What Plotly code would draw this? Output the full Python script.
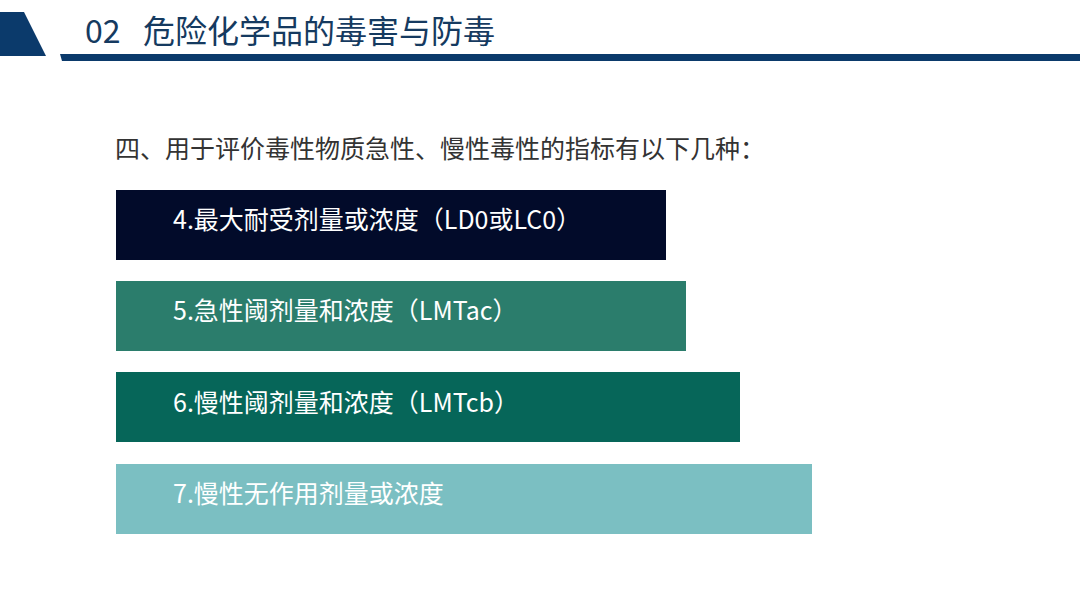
import plotly.graph_objects as go

W, H = 1080, 607

# bar labels and lengths (in slide pixels)
labels = [
    "4.最大耐受剂量或浓度（LD0或LC0）",
    "5.急性阈剂量和浓度（LMTac）",
    "6.慢性阈剂量和浓度（LMTcb）",
    "7.慢性无作用剂量或浓度",
]
lengths = [550, 570, 624, 696]
colors = ["#020b2a", "#2b7d6c", "#066659", "#7bbfc2"]

section_no = "02"
title = "危险化学品的毒害与防毒"
subtitle = "四、用于评价毒性物质急性、慢性毒性的指标有以下几种："

FONT = "Noto Sans CJK SC"


def py(v):
    # pixel row from top -> paper y
    return 1 - v / H


fig = go.Figure()

fig.add_trace(go.Bar(
    y=labels,
    x=lengths,
    base=116,
    orientation="h",
    width=70 / 91.33,
    marker=dict(color=colors, line=dict(width=0)),
    hoverinfo="skip",
))

# text inside each bar
for lab in labels:
    fig.add_annotation(
        x=171, y=lab, xref="x", yref="y",
        text=lab, showarrow=False,
        xanchor="left", yanchor="middle", yshift=7,
        font=dict(family=FONT, size=25, color="white"),
    )

# header block and rule
fig.add_shape(
    type="path", xref="paper", yref="paper",
    path=f"M 0 {py(12)} L {24 / W} {py(12)} L {46 / W} {py(56)} L 0 {py(56)} Z",
    fillcolor="#0b3a6b", line=dict(width=0),
)
fig.add_shape(
    type="path", xref="paper", yref="paper",
    path=f"M {60 / W} {py(54)} L 1 {py(54)} L 1 {py(61)} L {62 / W} {py(61)} Z",
    fillcolor="#0b3a6b", line=dict(width=0),
)

# section number and title (placed separately to keep the wide gap)
fig.add_annotation(
    x=83 / W, y=py(29), xref="paper", yref="paper",
    text=section_no, showarrow=False, xanchor="left", yanchor="middle",
    font=dict(family=FONT, size=32, color="#153a60"),
)
fig.add_annotation(
    x=141 / W, y=py(29), xref="paper", yref="paper",
    text=title, showarrow=False, xanchor="left", yanchor="middle",
    font=dict(family=FONT, size=32, color="#153a60"),
)
fig.add_annotation(
    x=113 / W, y=py(147), xref="paper", yref="paper",
    text=subtitle, showarrow=False, xanchor="left", yanchor="middle",
    font=dict(family=FONT, size=25, color="#333333"),
)

fig.update_layout(
    width=W, height=H,
    margin=dict(l=0, r=0, t=0, b=0),
    paper_bgcolor="white", plot_bgcolor="white",
    showlegend=False,
    bargap=0,
    xaxis=dict(range=[0, W], domain=[0, 1], visible=False, fixedrange=True),
    yaxis=dict(
        range=[3.5, -0.5], domain=[py(544.67), py(179.33)],
        visible=False, fixedrange=True,
        categoryorder="array", categoryarray=labels,
    ),
)

# drop the default page margin so the slide sits at the window origin
fig.write_html(
    "out.html",
    config={"displayModeBar": False},
    post_script="document.body.style.margin='0';",
)
